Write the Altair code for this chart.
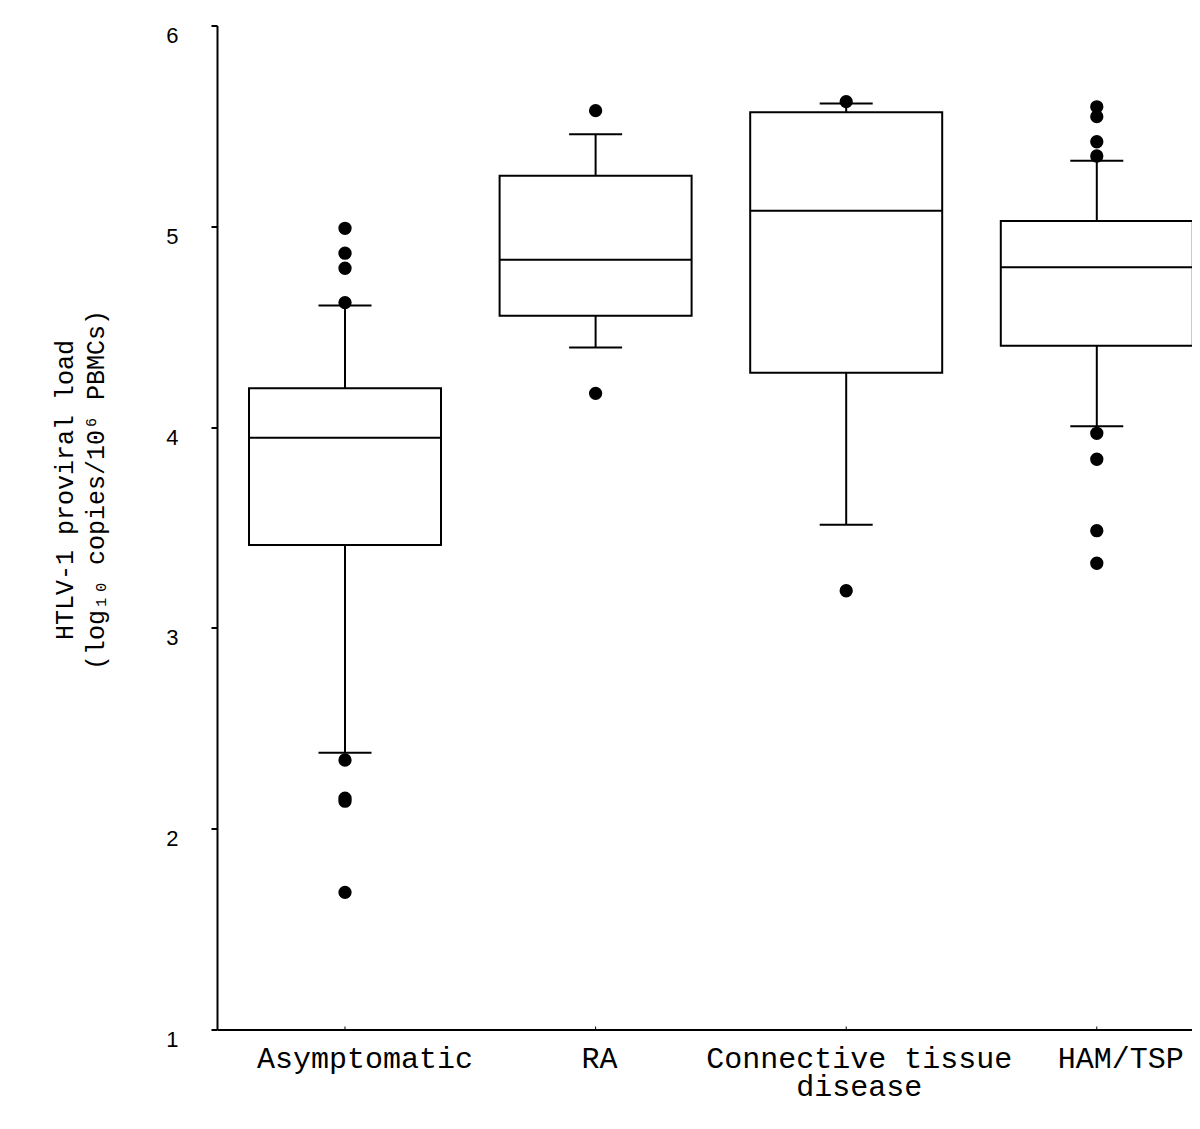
import altair as alt
import pandas as pd

# ---- data ----
categories = ["Asymptomatic", "RA", "Connective tissue disease", "HAM/TSP"]
q1 = [3.413, 4.554, 4.271, 4.405]
median = [3.947, 4.833, 5.078, 4.796]
q3 = [4.193, 5.252, 5.568, 5.026]
whisker_low = [2.378, 4.397, 3.514, 4.004]
whisker_high = [4.605, 5.458, 5.611, 5.327]

outliers_asymptomatic = [4.990, 4.866, 4.791, 4.620, 2.342, 2.152, 2.137, 1.683]
outliers_ra = [5.576, 4.168]
outliers_ctd = [5.621, 3.185]
outliers_ham = [5.595, 5.546, 5.421, 5.350, 3.969, 3.840, 3.484, 3.322]

y_ticks = [1, 2, 3, 4, 5, 6]

box_df = pd.DataFrame({
    "group": categories, "q1": q1, "median": median, "q3": q3,
    "lo": whisker_low, "hi": whisker_high,
})
out_groups = (["Asymptomatic"] * len(outliers_asymptomatic) + ["RA"] * len(outliers_ra)
              + ["Connective tissue disease"] * len(outliers_ctd) + ["HAM/TSP"] * len(outliers_ham))
out_vals = outliers_asymptomatic + outliers_ra + outliers_ctd + outliers_ham
out_df = pd.DataFrame({"group": out_groups, "value": out_vals})

x_axis = alt.Axis(
    title=None, labelAngle=0, labelFont="Liberation Mono", labelFontSize=30,
    labelColor="black", labelLimit=0, labelPadding=14, labelBaseline="top",
    labelLineHeight=28, ticks=False, domainColor="black", domainWidth=2,
    labelExpr="datum.value == 'Connective tissue disease' ? ['Connective tissue', 'disease'] : datum.label",
    labelOffset={"condition": [
        {"test": "datum.value == 'Asymptomatic'", "value": 20},
        {"test": "datum.value == 'RA'", "value": 4},
        {"test": "datum.value == 'Connective tissue disease'", "value": 13},
        {"test": "datum.value == 'HAM/TSP'", "value": 24},
    ], "value": 0},
)
y_axis = alt.Axis(
    values=y_ticks, format="d", grid=False,
    labelFont="Liberation Sans", labelFontSize=22, labelColor="black",
    labelBaseline="top", labelPadding=33,
    tickColor="black", tickWidth=2, tickSize=6,
    domainColor="black", domainWidth=2,
    title=["HTLV-1 proviral load", "(log₁₀ copies/10⁶ PBMCs)"],
    titleFont="Liberation Mono", titleFontSize=25, titleFontWeight="normal",
    titleColor="black", titleAngle=270, titleAlign="center", titleBaseline="middle",
    titleX=-153, titleY=464, titleLineHeight=31,
)

x_scale = alt.Scale(domain=categories, range=[0, 1007.8], paddingInner=0, paddingOuter=0.0108)
y_scale = alt.Scale(domain=[1, 6], nice=False, zero=False)

X = alt.X("group:N", sort=categories, scale=x_scale, axis=x_axis)

base = alt.Chart(box_df)

whisk_low = base.mark_rule(color="black", strokeWidth=2).encode(
    x=X, y=alt.Y("lo:Q", scale=y_scale, axis=y_axis), y2="q1:Q")
whisk_high = base.mark_rule(color="black", strokeWidth=2).encode(
    x=X, y=alt.Y("q3:Q", scale=y_scale, axis=y_axis), y2="hi:Q")
box = base.mark_bar(width=192, fill="white", stroke="black", strokeWidth=2).encode(
    x=X, y=alt.Y("q1:Q", scale=y_scale, axis=y_axis), y2="q3:Q")
med = base.mark_tick(size=192, thickness=2, color="black", opacity=1).encode(
    x=X, y=alt.Y("median:Q", scale=y_scale, axis=y_axis))
cap_lo = base.mark_tick(size=53, thickness=2, color="black", opacity=1).encode(
    x=X, y=alt.Y("lo:Q", scale=y_scale, axis=y_axis))
cap_hi = base.mark_tick(size=53, thickness=2, color="black", opacity=1).encode(
    x=X, y=alt.Y("hi:Q", scale=y_scale, axis=y_axis))
xticks = base.mark_rule(color="black", strokeWidth=1).encode(
    x=X, y=alt.datum(1.0), y2=alt.datum(1.015))
pts = alt.Chart(out_df).mark_circle(size=177, color="black", opacity=1).encode(
    x=X, y=alt.Y("value:Q", scale=y_scale, axis=y_axis))

chart = alt.layer(whisk_low, whisk_high, box, med, cap_lo, cap_hi, xticks, pts).properties(
    width=975, height=1004,
    autosize=alt.AutoSizeParams(type="none"),
    padding={"left": 209, "top": 17.5, "right": 0, "bottom": 90},
    background="white",
).configure_view(stroke=None)

chart.save("out.html", embed_options={"renderer": "svg", "actions": False})
